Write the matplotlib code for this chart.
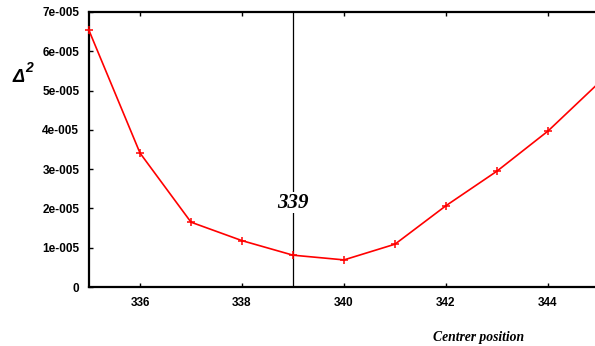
import matplotlib
matplotlib.use('Agg')
import matplotlib.pyplot as plt
from matplotlib.ticker import FixedLocator

# ===== DATA =====
centre_pos = [335, 336, 337, 338, 339, 340, 341, 342, 343, 344, 345]
delta_sq = [6.53e-5, 3.41e-5, 1.65e-5, 1.18e-5, 0.81e-5, 0.69e-5,
            1.09e-5, 2.07e-5, 2.95e-5, 3.97e-5, 5.20e-5]
best_centre = 339
x_ticks = [336, 338, 340, 342, 344]
y_ticks = [0, 1e-5, 2e-5, 3e-5, 4e-5, 5e-5, 6e-5, 7e-5]
y_tick_labels = ["0", "1e-005", "2e-005", "3e-005", "4e-005",
                 "5e-005", "6e-005", "7e-005"]

W, H = 595, 346
fig = plt.figure(figsize=(W / 100, H / 100), dpi=100)
ax = fig.add_axes([89 / W, 59 / H, 510 / W, 275 / H])

ax.plot(centre_pos, delta_sq, '-', color='red', linewidth=1.2,
        marker='+', markersize=5.5, markeredgewidth=1.1, clip_on=False, zorder=3)

# vertical marker at the best centre position
ax.axvline(best_centre, color='black', linewidth=0.9, zorder=2)
ax.text(best_centre, 2.15e-5, str(best_centre), ha='center', va='center',
        fontsize=15, fontweight='bold', fontstyle='italic',
        family='Liberation Serif', zorder=4,
        bbox=dict(facecolor='white', edgecolor='none', pad=0.5))

ax.set_xlim(335, 345)
ax.set_ylim(0, 7e-5)
ax.xaxis.set_major_locator(FixedLocator(x_ticks))
ax.yaxis.set_major_locator(FixedLocator(y_ticks))
ax.set_yticklabels(y_tick_labels)
ax.set_xticklabels([str(t) for t in x_ticks])

for lab in ax.get_xticklabels() + ax.get_yticklabels():
    lab.set_family('Liberation Sans')
    lab.set_fontweight('bold')
    lab.set_fontsize(8.5)

ax.tick_params(direction='in', length=3, width=1, top=True, right=True,
               colors='black', pad=7)
for s in ax.spines.values():
    s.set_linewidth(1.6)

# axis titles
fig.text(13 / W, 1 - 78 / H, "Δ", fontsize=13, fontweight='bold',
         fontstyle='italic', family='Liberation Sans', va='center')
fig.text(25 / W, 1 - 68 / H, "2", fontsize=10, fontweight='bold',
         fontstyle='italic', family='Liberation Sans', va='center')
fig.text(479 / W, 1 - 337 / H, "Centrer position", fontsize=9.8,
         fontweight='bold', fontstyle='italic', family='Liberation Serif',
         ha='center', va='center')

fig.savefig('out.png', dpi=100)
